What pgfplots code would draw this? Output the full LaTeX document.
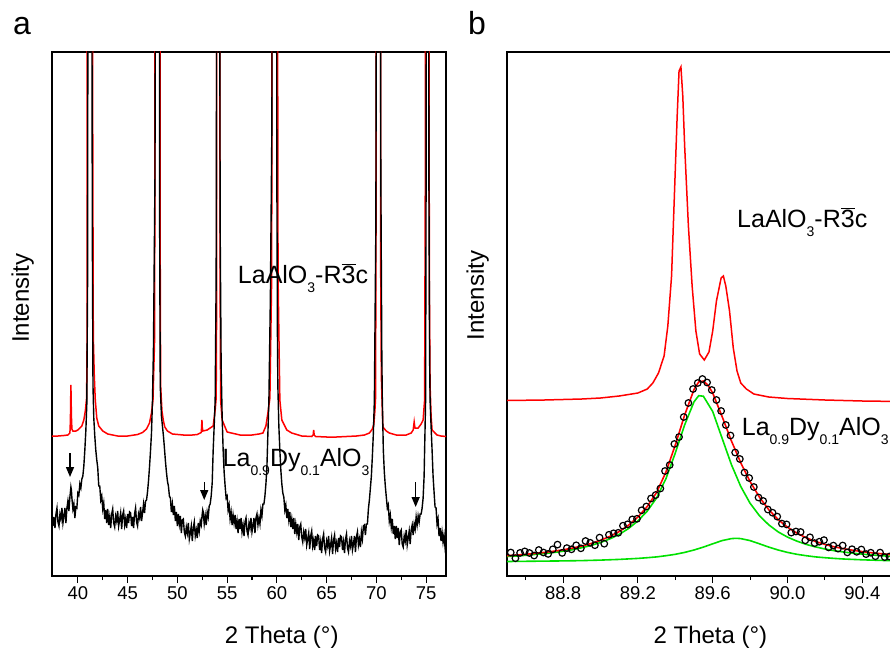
\documentclass[border=0pt]{standalone}
\usepackage{pgfplots}
\pgfplotsset{compat=1.18}
\usepackage{fontspec}
\setmainfont{Liberation Sans}
\usetikzlibrary{arrows.meta}
\definecolor{fitgreen}{RGB}{0,225,0}
\definecolor{refred}{RGB}{255,0,0}
\newcommand{\sub}[1]{\raisebox{-9pt}{\fontsize{14}{14}\selectfont #1}}
\newcommand{\rbar}{$\overline{\mbox{3}}$}
\begin{document}
\begin{tikzpicture}
\useasboundingbox (0pt,0pt) rectangle (890pt,649pt);
\clip (0pt,0pt) rectangle (890pt,649pt);
\pgfplotsset{
  myax/.style={
    scale only axis, anchor=south west, height=524pt,
    ymin=0, ymax=524, ytick=\empty,
    tick align=outside, xtick pos=left,
    major tick length=7pt, minor tick length=4pt,
    every tick/.style={black, line width=1.1pt},
    axis line style={line width=1.3pt},
    tick label style={font=\fontsize{18.5}{20}\selectfont},
    /pgf/number format/assume math mode=true,
    label style={font=\fontsize{24}{28}\selectfont, inner sep=0pt},
  }
}
% ---------------- panel a ----------------
\begin{axis}[myax, at={(52pt,73pt)}, width=394pt, xmin=37.4, xmax=77,
  xtick={40,45,...,75}, minor xtick={42.5,47.5,...,72.5},
  xlabel={2 Theta (°)}, ylabel={Intensity},
  xlabel style={at={(axis description cs:0.583,0)}, anchor=base, yshift=-67pt},
  ylabel style={at={(axis description cs:-0.0584,0.53)}, anchor=base},
]
\addplot[refred, line width=1.5pt] coordinates {
(37.4,140)(38.0,140)(38.6,140.5)(39.0,141)(39.2,143)(39.25,155)(39.3,191)(39.35,160)(39.4,147)(39.5,145)(39.8,145)(40.0,146)(40.2,148)(40.4,150)(40.6,156)(40.75,165)(40.88,178)(40.93,240)(40.96,1000)(41.43,1000)(41.48,500)(41.55,240)(41.65,200)(41.75,176)(41.9,158)(42.1,150)(42.5,145)(43.0,142)(44.0,140)(45.0,140)(46.0,141.5)(46.5,143.5)(46.9,147)(47.2,153)(47.4,163)(47.55,176)(47.72,240)(47.78,1000)(48.26,1000)(48.28,300)(48.32,190)(48.45,165)(48.6,155)(48.74,149)(49.0,145)(49.5,142)(50.6,141)(51.5,141)(52.0,141.5)(52.4,143.5)(52.44,149)(52.47,156)(52.5,149)(52.56,145)(53.0,146)(53.3,148)(53.6,150)(53.8,166)(53.9,178)(53.94,260)(53.96,1000)(54.26,1000)(54.29,300)(54.35,176)(54.5,156)(55.0,144)(56.3,141)(57.5,141)(58.2,142)(58.6,143)(58.9,150)(59.1,163)(59.3,178)(59.48,300)(59.55,1000)(60.0,1000)(60.12,300)(60.3,176)(60.5,156)(61.0,146)(61.5,143)(62.5,140)(63.5,139.5)(63.65,141)(63.7,146)(63.75,141)(63.9,139.5)(65.0,139)(66.0,139)(67.0,139.5)(68.0,140)(68.8,141)(69.3,143)(69.6,147)(69.75,152)(69.85,165)(69.92,178)(69.98,400)(70.0,1000)(70.4,1000)(70.44,300)(70.5,200)(70.65,149)(71.0,145)(71.3,143)(72.0,141)(73.0,141)(73.5,143)(73.7,146)(73.75,150)(73.8,154)(73.85,150)(73.9,148)(74.2,148)(74.5,152)(74.7,156)(74.85,176)(74.92,400)(74.95,1000)(75.28,1000)(75.32,300)(75.4,190)(75.5,160)(75.6,146)(76.1,141)(76.5,140)(77.0,139.5)
};
\addplot[black, line width=1.4pt] coordinates {
(37.4,63)(37.5,50)(37.6,59)(37.7,48)(37.8,62)(37.9,68)(38.0,54)(38.1,50)(38.2,62)(38.3,57)(38.4,68)(38.5,53)(38.6,60)(38.7,68)(38.8,53)(38.9,68)(39.0,75)(39.1,65)(39.2,79)(39.3,89)(39.35,86)(39.4,78)(39.5,67)(39.6,72)(39.7,58)(39.8,69)(39.9,68)(40.0,83)(40.1,81)(40.2,92)(40.3,88)(40.4,97)(40.5,100)(40.6,110)(40.7,126)(40.8,145)(40.9,172)(40.98,300)(41.05,1000)(41.35,1000)(41.45,350)(41.52,190)(41.6,158)(41.7,140)(41.8,126)(41.9,116)(42.0,108)(42.1,90)(42.2,90)(42.3,76)(42.4,80)(42.5,67)(42.6,73)(42.7,57)(42.8,66)(42.9,53)(43.0,67)(43.1,51)(43.2,59)(43.3,48)(43.4,62)(43.5,67)(43.6,53)(43.7,49)(43.8,60)(43.9,55)(44.0,65)(44.1,50)(44.2,56)(44.3,63)(44.4,47)(44.5,61)(44.6,65)(44.7,51)(44.8,57)(44.9,48)(45.0,62)(45.1,53)(45.2,64)(45.3,63)(45.4,50)(45.5,59)(45.6,48)(45.7,62)(45.8,68)(45.9,54)(46.0,50)(46.1,62)(46.2,58)(46.3,69)(46.4,55)(46.5,63)(46.6,72)(46.7,63)(46.8,75)(46.9,76)(47.0,84)(47.1,95)(47.2,109)(47.3,125)(47.4,143)(47.5,176)(47.6,230)(47.75,400)(47.88,1000)(48.18,1000)(48.22,350)(48.28,190)(48.4,160)(48.5,150)(48.6,140)(48.7,128)(48.8,115)(48.9,104)(49.0,95)(49.1,90)(49.2,80)(49.3,78)(49.4,64)(49.5,72)(49.6,61)(49.7,70)(49.8,55)(49.9,64)(50.0,50)(50.1,62)(50.2,52)(50.3,60)(50.4,43)(50.5,56)(50.6,57)(50.7,44)(50.8,40)(50.9,49)(51.0,43)(51.1,53)(51.2,37)(51.3,43)(51.4,50)(51.5,35)(51.6,48)(51.7,54)(51.8,40)(51.9,46)(52.0,38)(52.1,53)(52.2,45)(52.3,55)(52.4,51)(52.5,62)(52.55,66)(52.6,64)(52.7,52)(52.8,60)(52.9,51)(53.0,64)(53.1,59)(53.2,70)(53.3,72)(53.4,80)(53.5,93)(53.6,126)(53.7,150)(53.8,176)(53.9,300)(54.02,1000)(54.2,1000)(54.3,350)(54.4,210)(54.5,160)(54.6,126)(54.7,104)(54.8,90)(54.9,78)(55.0,80)(55.1,66)(55.2,71)(55.3,57)(55.4,64)(55.5,51)(55.6,61)(55.7,53)(55.8,61)(55.9,47)(56.0,55)(56.1,43)(56.2,57)(56.3,47)(56.4,58)(56.5,44)(56.6,51)(56.7,40)(56.8,54)(56.9,58)(57.0,45)(57.1,41)(57.2,53)(57.3,48)(57.4,58)(57.5,44)(57.6,50)(57.7,58)(57.8,43)(57.9,58)(58.0,62)(58.1,51)(58.2,58)(58.3,52)(58.4,66)(58.5,60)(58.6,72)(58.7,72)(58.8,80)(58.9,92)(59.0,109)(59.1,143)(59.2,176)(59.35,280)(59.5,450)(59.62,1000)(59.92,1000)(60.0,400)(60.05,250)(60.1,190)(60.2,150)(60.3,126)(60.4,106)(60.5,92)(60.6,83)(60.7,79)(60.8,66)(60.9,71)(61.0,58)(61.1,67)(61.2,56)(61.3,64)(61.4,49)(61.5,57)(61.6,47)(61.7,58)(61.8,42)(61.9,52)(62.0,44)(62.1,52)(62.2,36)(62.3,49)(62.4,52)(62.5,39)(62.6,34)(62.7,44)(62.8,38)(62.9,47)(63.0,31)(63.1,37)(63.2,43)(63.3,27)(63.4,40)(63.5,45)(63.6,30)(63.7,36)(63.8,26)(63.9,40)(64.0,30)(64.1,41)(64.2,40)(64.3,26)(64.4,34)(64.5,23)(64.6,37)(64.7,42)(64.8,28)(64.9,24)(65.0,35)(65.1,30)(65.2,40)(65.3,25)(65.4,31)(65.5,38)(65.6,22)(65.7,36)(65.8,41)(65.9,27)(66.0,33)(66.1,24)(66.2,38)(66.3,29)(66.4,40)(66.5,39)(66.6,26)(66.7,34)(66.8,23)(66.9,37)(67.0,42)(67.1,28)(67.2,24)(67.3,35)(67.4,30)(67.5,40)(67.6,26)(67.7,32)(67.8,40)(67.9,24)(68.0,39)(68.1,44)(68.2,31)(68.3,37)(68.4,29)(68.5,44)(68.6,37)(68.7,50)(68.8,51)(68.9,41)(69.0,52)(69.1,52)(69.2,67)(69.3,76)(69.4,88)(69.5,100)(69.6,120)(69.7,143)(69.8,176)(69.95,350)(70.08,1000)(70.32,1000)(70.45,400)(70.55,220)(70.6,176)(70.7,126)(70.8,104)(70.9,90)(71.0,79)(71.1,68)(71.2,71)(71.3,55)(71.4,61)(71.5,49)(71.6,57)(71.7,42)(71.8,50)(71.9,37)(72.0,50)(72.1,38)(72.2,48)(72.3,31)(72.4,44)(72.5,46)(72.6,32)(72.7,29)(72.8,40)(72.9,35)(73.0,46)(73.1,31)(73.2,38)(73.3,45)(73.4,32)(73.5,46)(73.6,51)(73.7,41)(73.8,52)(73.9,47)(74.0,59)(74.1,51)(74.2,60)(74.3,54)(74.4,62)(74.5,62)(74.6,68)(74.7,78)(74.8,100)(74.85,126)(74.9,150)(74.95,176)(75.0,400)(75.05,1000)(75.2,1000)(75.28,400)(75.35,220)(75.4,176)(75.5,150)(75.6,126)(75.7,100)(75.8,84)(75.9,69)(76.0,68)(76.1,52)(76.2,57)(76.3,40)(76.4,48)(76.5,35)(76.6,44)(76.7,34)(76.8,41)(76.9,29)(77.0,36)
};
\draw[-{Triangle[length=10pt,width=8pt]}, line width=1.4pt] (axis cs:39.21,123) -- (axis cs:39.21,99);
\draw[-{Triangle[length=10pt,width=8pt]}, line width=1.4pt] (axis cs:52.7,94) -- (axis cs:52.7,76);
\draw[-{Triangle[length=10pt,width=8pt]}, line width=1.4pt] (axis cs:73.95,94) -- (axis cs:73.95,69);
\node[anchor=base west, inner sep=0pt, font=\fontsize{25}{30}\selectfont] at (axis cs:56.07,293) {LaAlO\sub{3}-R\rbar c};
\node[anchor=base west, inner sep=0pt, font=\fontsize{25}{30}\selectfont] at (axis cs:54.54,109.3) {La\sub{0.9}Dy\sub{0.1}AlO\sub{3}};
\end{axis}
% ---------------- panel b ----------------
\begin{axis}[myax, at={(507pt,73pt)}, width=392.7pt, xmin=88.5, xmax=90.6,
  xtick={88.8,89.2,89.6,90.0,90.4}, minor xtick={88.6,89.0,89.4,89.8,90.2},
  xticklabel style={/pgf/number format/.cd, fixed, fixed zerofill, precision=1},
  xlabel={2 Theta (°)}, ylabel={Intensity},
  xlabel style={at={(axis description cs:0.518,0)}, anchor=base, yshift=-67pt},
  ylabel style={at={(axis description cs:-0.0586,0.535)}, anchor=base},
]
\addplot[refred, line width=1.5pt] coordinates {
(88.50,175.5)(88.70,176)(88.90,177)(89.00,178)(89.10,180)(89.20,183)(89.25,187)(89.28,193)(89.31,203)(89.34,220)(89.36,250)(89.38,300)(89.395,380)(89.41,460)(89.42,505)(89.43,509)(89.44,480)(89.45,430)(89.47,350)(89.49,290)(89.51,245)(89.53,222)(89.555,216)(89.58,224)(89.60,245)(89.62,275)(89.645,298)(89.657,300)(89.67,290)(89.69,265)(89.71,228)(89.73,205)(89.75,193)(89.78,187)(89.82,182)(89.90,179)(90.00,177.5)(90.20,176)(90.40,175)(90.60,174.5)
};
\addplot[only marks, mark=o, mark size=3.3pt, mark options={black, line width=1.2pt}] coordinates {
(88.52,23.5)(88.545,17.8)(88.57,23.1)(88.595,24.6)(88.62,23.0)(88.645,20.5)(88.67,26)(88.695,23.5)(88.72,22.1)(88.745,26.7)(88.77,31.4)(88.795,23.1)(88.82,27.9)(88.845,26.7)(88.87,30.7)(88.895,27.7)(88.92,35)(88.945,33.2)(88.97,30.8)(88.995,38.4)(89.02,32.3)(89.045,41.2)(89.07,42.7)(89.095,43.2)(89.12,50.3)(89.145,51.7)(89.17,56.6)(89.195,57.2)(89.22,65.7)(89.245,69.5)(89.27,77.5)(89.295,81)(89.32,87.5)(89.345,105)(89.37,111)(89.395,132)(89.42,139)(89.445,159)(89.47,173)(89.495,187)(89.52,193)(89.545,197)(89.57,193.5)(89.595,186)(89.62,176)(89.645,165)(89.67,151)(89.695,140.5)(89.72,123.5)(89.745,117)(89.77,103.5)(89.795,98)(89.82,89)(89.845,78.5)(89.87,75)(89.895,66.5)(89.92,63.3)(89.945,59.4)(89.97,52.4)(89.995,51.6)(90.02,43.4)(90.045,44.5)(90.07,44)(90.095,35.7)(90.12,38.7)(90.145,32.9)(90.17,34.3)(90.195,35.9)(90.22,28.6)(90.245,30.4)(90.27,27.4)(90.295,30.5)(90.32,23.6)(90.345,26.8)(90.37,24.2)(90.395,26.5)(90.42,21.9)(90.445,23.3)(90.47,19.8)(90.495,23.4)(90.52,18.9)(90.545,19.5)(90.57,25.1)
};
\addplot[fitgreen, line width=1.6pt] coordinates {
(88.50,19.5)(88.55,20.0)(88.60,20.7)(88.65,21.6)(88.70,22.4)(88.75,23.5)(88.80,24.8)(88.85,26.3)(88.90,28.3)(88.95,30.6)(89.00,33.5)(89.05,37.1)(89.10,41.6)(89.15,47.5)(89.20,55.1)(89.25,64.9)(89.30,78.1)(89.35,97.4)(89.40,123)(89.45,151.1)(89.50,174.2)(89.525,180.3)(89.55,179.8)(89.60,164.5)(89.65,137.9)(89.70,111.4)(89.75,89.5)(89.80,72.7)(89.85,60.3)(89.90,51.1)(89.95,44.1)(90.00,38.9)(90.05,34.9)(90.10,31.6)(90.15,29.1)(90.20,27.0)(90.25,25.3)(90.30,24.0)(90.35,22.8)(90.40,21.9)(90.45,21.0)(90.50,20.4)(90.55,19.7)(90.60,19.2)
};
\addplot[fitgreen, line width=1.6pt] coordinates {
(88.50,14.5)(88.60,14.7)(88.70,14.9)(88.80,15.1)(88.90,15.4)(89.00,15.9)(89.10,16.6)(89.20,17.6)(89.25,18.3)(89.30,19.1)(89.35,20.3)(89.40,21.7)(89.45,23.6)(89.50,26.0)(89.55,28.9)(89.60,32.2)(89.65,35.4)(89.70,37.4)(89.725,37.7)(89.75,37.4)(89.80,35.4)(89.85,32.2)(89.90,28.9)(89.95,26.0)(90.00,23.6)(90.05,21.7)(90.10,20.3)(90.15,19.1)(90.20,18.3)(90.25,17.6)(90.30,17.0)(90.35,16.6)(90.40,16.2)(90.45,15.9)(90.50,15.6)(90.55,15.4)(90.60,15.3)
};
\addplot[refred, line width=1.6pt] coordinates {
(88.50,20.3)(88.55,20.9)(88.60,21.7)(88.65,22.6)(88.70,23.6)(88.75,24.8)(88.80,26.2)(88.85,27.9)(88.90,30.0)(88.95,32.5)(89.00,35.7)(89.05,39.6)(89.10,44.5)(89.15,50.8)(89.20,59.0)(89.25,69.5)(89.30,83.5)(89.35,104)(89.40,131)(89.45,161)(89.50,186.5)(89.525,194)(89.55,195)(89.575,190.8)(89.60,183)(89.65,159.6)(89.70,135.1)(89.75,113.2)(89.80,94.4)(89.85,78.8)(89.90,66.3)(89.95,56.4)(90.00,48.8)(90.05,42.9)(90.10,38.2)(90.15,34.5)(90.20,31.6)(90.25,29.2)(90.30,27.3)(90.35,25.7)(90.40,24.4)(90.45,23.2)(90.50,22.3)(90.55,21.4)(90.60,20.7)
};
\node[anchor=base west, inner sep=0pt, font=\fontsize{25}{30}\selectfont] at (axis cs:89.73,349) {LaAlO\sub{3}-R\rbar c};
\node[anchor=base west, inner sep=0pt, font=\fontsize{25}{30}\selectfont] at (axis cs:89.755,141) {La\sub{0.9}Dy\sub{0.1}AlO\sub{3}};
\end{axis}
\node[anchor=base west, inner sep=0pt, font=\fontsize{32}{36}\selectfont] at (13pt,614pt) {a};
\node[anchor=base west, inner sep=0pt, font=\fontsize{32}{36}\selectfont] at (468pt,614pt) {b};
\end{tikzpicture}
\end{document}
